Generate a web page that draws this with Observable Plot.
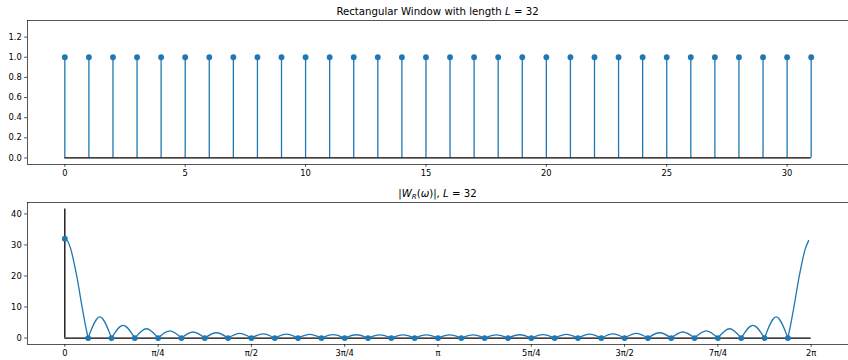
<!DOCTYPE html>
<html>
<head>
<meta charset="utf-8">
<script src="https://cdn.jsdelivr.net/npm/d3@7"></script>
<script src="https://cdn.jsdelivr.net/npm/@observablehq/plot@0.6"></script>
<style>
  html, body { margin: 0; padding: 0; background: #fff; }
  #wrap { width: 848px; height: 360px; position: relative; }
  svg { display: block; }
</style>
</head>
<body>
<div id="wrap"></div>
<script>
// ---------- data ----------
const L = 32;
const sampleIndex = [0,1,2,3,4,5,6,7,8,9,10,11,12,13,14,15,16,17,18,19,20,21,22,23,24,25,26,27,28,29,30,31];
const windowValues = [1,1,1,1,1,1,1,1,1,1,1,1,1,1,1,1,1,1,1,1,1,1,1,1,1,1,1,1,1,1,1,1];
const dftMagnitudes = [32,0,0,0,0,0,0,0,0,0,0,0,0,0,0,0,0,0,0,0,0,0,0,0,0,0,0,0,0,0,0,0];
// peak heights of the side lobes between successive nulls (lobe k lies between null k and k+1)
const sidelobePeaks = [6.8,4.1,3.0,2.3,1.95,1.7,1.5,1.35,1.25,1.17,1.1,1.06,1.03,1.01,1.0,
                       1.0,1.01,1.03,1.06,1.1,1.17,1.25,1.35,1.5,1.7,1.95,2.3,3.0,4.1,6.8];
// main lobe at omega = 0 (offset in bins from 0)
const mainLobeOffsets = [0, 0.125, 0.25, 0.5, 0.75, 0.875, 1];
const mainLobeValues  = [32, 31.2, 28.8, 20.4, 9.6, 4.5, 0];
// main lobe approaching 2*pi (offset in bins before 2*pi)
const endLobeOffsets = [1, 0.875, 0.75, 0.5, 0.25, 0.11];
const endLobeValues  = [0, 4.5, 9.6, 20.4, 28.8, 31.4];
const topYTicks = [0, 0.2, 0.4, 0.6, 0.8, 1.0, 1.2];
const topXTicks = [0, 5, 10, 15, 20, 25, 30];
const bottomYTicks = [0, 10, 20, 30, 40];
const bottomXTickLabels = ["0", "π/4", "π/2", "3π/4", "π", "5π/4", "3π/2", "7π/4", "2π"];
const guideTop = 1.3;        // data extent used by autoscale (top)
const markerLineTop = 41.6;  // vertical line at omega = 0 (bottom)

// ---------- derived tables ----------
const blue = "#1f77b4";
const step = 2 * Math.PI / L;
const stems = sampleIndex.map((n, i) => ({n, v: windowValues[i]}));
const dft = sampleIndex.map((k, i) => ({w: k * step, v: dftMagnitudes[i]}));
const mainPts = [];
mainLobeOffsets.forEach((o, i) => mainPts.push({w: o * step, v: mainLobeValues[i], seg: "start"}));
endLobeOffsets.forEach((o, i) => mainPts.push({w: 2 * Math.PI - o * step, v: endLobeValues[i], seg: "end"}));
const sidePts = [];
sidelobePeaks.forEach((p, i) => {
  const k = i + 1;
  sidePts.push({w: k * step, v: 0, seg: k});
  sidePts.push({w: (k + 0.5) * step, v: p, seg: k});
  sidePts.push({w: (k + 1) * step, v: 0, seg: k});
});
const bottomXTicks = bottomXTickLabels.map((_, i) => i * Math.PI / 4);

const style = {fontFamily: "'DejaVu Sans', sans-serif", fontSize: "8.33px", background: "#fff", color: "#000", overflow: "visible"};

// ---------- top chart ----------
const topXDom = [-0.05 * 31, 31 + 0.05 * 31];
const topYDom = [-0.05 * guideTop, guideTop * 1.05];
const topChart = Plot.plot({
  width: 848, height: 180,
  marginLeft: 27, marginRight: 0, marginTop: 20, marginBottom: 16,
  style,
  x: {domain: topXDom, ticks: topXTicks, tickSize: 2.9, tickPadding: 2.9, label: null},
  y: {domain: topYDom, ticks: topYTicks, tickFormat: d => d.toFixed(1), tickSize: 2.9, tickPadding: 2.9, label: null},
  marks: [
    Plot.ruleY([topYDom[0], topYDom[1]], {stroke: "#000", strokeWidth: 0.67}),
    Plot.ruleX([topXDom[0]], {stroke: "#000", strokeWidth: 0.67}),
    Plot.ruleX(stems, {x: "n", y1: 0, y2: "v", stroke: blue, strokeWidth: 1.3}),
    Plot.ruleY([0], {x1: sampleIndex[0], x2: sampleIndex[sampleIndex.length - 1], stroke: "#000", strokeWidth: 1.3}),
    Plot.dot(stems, {x: "n", y: "v", r: 2.9, fill: blue})
  ]
});

// ---------- bottom chart ----------
const botXDom = [-0.05 * 2 * Math.PI, 2 * Math.PI * 1.05];
const botYDom = [-0.05 * markerLineTop, markerLineTop * 1.05];
const bottomChart = Plot.plot({
  width: 848, height: 180,
  marginLeft: 27, marginRight: 0, marginTop: 22, marginBottom: 16,
  style,
  x: {domain: botXDom, ticks: bottomXTicks, tickFormat: (d, i) => bottomXTickLabels[i], tickSize: 2.9, tickPadding: 2.9, label: null},
  y: {domain: botYDom, ticks: bottomYTicks, tickSize: 2.9, tickPadding: 2.9, label: null},
  marks: [
    Plot.ruleY([botYDom[0], botYDom[1]], {stroke: "#000", strokeWidth: 0.67}),
    Plot.ruleX([botXDom[0]], {stroke: "#000", strokeWidth: 0.67}),
    Plot.ruleY([0], {x1: 0, x2: 2 * Math.PI, stroke: "#000", strokeWidth: 1.3}),
    Plot.ruleX([0], {y1: 0, y2: markerLineTop, stroke: "#000", strokeWidth: 1.3}),
    Plot.line(mainPts, {x: "w", y: "v", z: "seg", curve: "monotone-x", stroke: blue, strokeWidth: 1.3}),
    Plot.line(sidePts, {x: "w", y: "v", z: "seg", curve: "natural", stroke: blue, strokeWidth: 1.3}),
    Plot.dot(dft, {x: "w", y: "v", r: 2.9, fill: blue})
  ]
});

const wrap = document.getElementById("wrap");
wrap.appendChild(topChart);
wrap.appendChild(bottomChart);

// thin tick marks like the reference
d3.selectAll("svg g[aria-label='x-axis tick'], svg g[aria-label='y-axis tick']").attr("stroke-width", 0.67);
d3.selectAll("svg g[aria-label='x-axis'] path, svg g[aria-label='y-axis'] path").attr("stroke-width", 0.67);

// ---------- titles ----------
const cx = (27 + 848) / 2;
const t1 = d3.select(topChart).append("text")
  .attr("x", cx).attr("y", 15).attr("text-anchor", "middle")
  .attr("font-size", "10.2px").attr("fill", "#000");
t1.append("tspan").text("Rectangular Window with length ");
t1.append("tspan").attr("font-style", "italic").text("L");
t1.append("tspan").text(" = 32");

const t2 = d3.select(bottomChart).append("text")
  .attr("x", cx).attr("y", 17).attr("text-anchor", "middle")
  .attr("font-size", "10.2px").attr("fill", "#000");
t2.append("tspan").text("|");
t2.append("tspan").attr("font-style", "italic").text("W");
t2.append("tspan").attr("font-style", "italic").attr("font-size", "7px").attr("dy", "2").text("R");
t2.append("tspan").attr("dy", "-2").text("(");
t2.append("tspan").attr("font-style", "italic").text("ω");
t2.append("tspan").text(")|, ");
t2.append("tspan").attr("font-style", "italic").text("L");
t2.append("tspan").text(" = 32");
</script>
</body>
</html>
